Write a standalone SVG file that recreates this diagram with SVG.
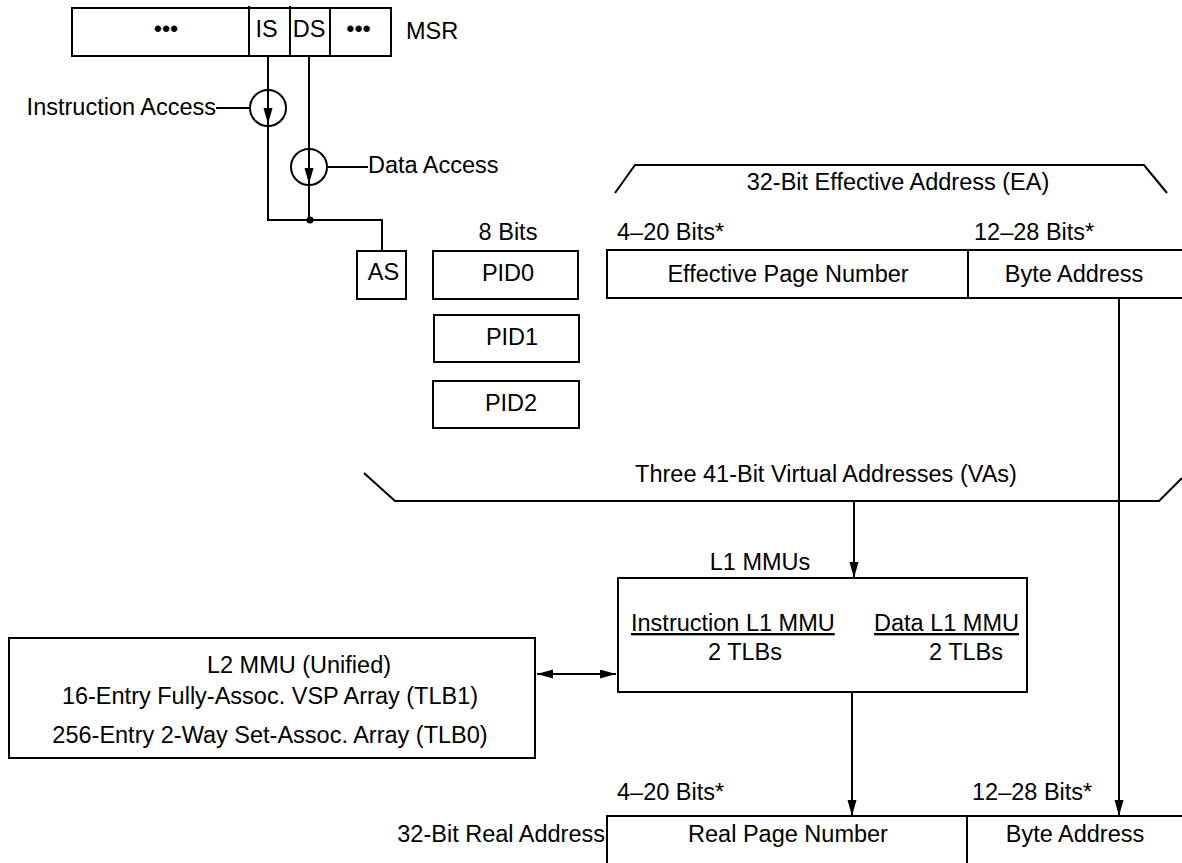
<svg xmlns="http://www.w3.org/2000/svg" width="1182" height="863" viewBox="0 0 1182 863">
<style>
  text { font-family: "Liberation Sans", Arial, sans-serif; font-size: 23.5px; fill: #000; }
  .m { text-anchor: middle; }
  .e { text-anchor: end; }
  .box { fill: #fff; stroke: #000; stroke-width: 2; }
  .ln { fill: none; stroke: #000; stroke-width: 2; }
  .u { text-decoration: underline; }
</style>
<defs>
  <marker id="ah" markerUnits="userSpaceOnUse" markerWidth="17" markerHeight="10" refX="16" refY="4.5" orient="auto-start-reverse">
    <path d="M0,0 L16,4.5 L0,9 Z" fill="#000"/>
  </marker>
</defs>
<rect width="1182" height="863" fill="#fff"/>

<g id="msr">
  <rect class="box" x="72" y="8" width="319" height="48"/>
  <line class="ln" x1="249" y1="6" x2="249" y2="56"/>
  <line class="ln" x1="290" y1="6" x2="290" y2="56"/>
  <line class="ln" x1="330" y1="8" x2="330" y2="57"/>
  <text class="m" x="166" y="37">•••</text>
  <text class="m" x="266.5" y="37">IS</text>
  <text class="m" x="309" y="37">DS</text>
  <text class="m" x="358.5" y="37">•••</text>
  <text x="406" y="39">MSR</text>
</g>

<g id="instruction-access">
  <circle class="ln" cx="268" cy="108" r="18"/>
  <line class="ln" x1="216" y1="108" x2="250" y2="108"/>
  <text class="e" x="216" y="115">Instruction Access</text>
</g>

<g id="data-access">
  <circle class="ln" cx="309" cy="167" r="18"/>
  <line class="ln" x1="327" y1="167" x2="368" y2="167"/>
  <text x="368" y="173">Data Access</text>
</g>

<g id="as">
  <rect class="box" x="357" y="251" width="49" height="48"/>
  <text class="m" x="383.5" y="280">AS</text>
</g>

<g id="pid0">
  <text class="m" x="508" y="240">8 Bits</text>
  <rect class="box" x="433" y="251" width="145" height="48"/>
  <text class="m" x="508" y="281">PID0</text>
</g>
<g id="pid1">
  <rect class="box" x="434" y="315" width="145" height="47"/>
  <text class="m" x="512" y="345">PID1</text>
</g>
<g id="pid2">
  <rect class="box" x="433" y="381" width="146" height="47"/>
  <text class="m" x="511" y="411">PID2</text>
</g>

<g id="effective-address">
  <path class="ln" d="M615,193 L635,165 L1144,165 L1167,193" stroke-width="1.5"/>
  <text class="m" x="898" y="190">32-Bit Effective Address (EA)</text>
  <text x="617" y="240">4–20 Bits*</text>
  <text x="974" y="240">12–28 Bits*</text>
  <rect class="box" x="607" y="250" width="590" height="48"/>
  <line class="ln" x1="968" y1="250" x2="968" y2="298"/>
  <text class="m" x="788" y="282">Effective Page Number</text>
  <text class="m" x="1074" y="282">Byte Address</text>
</g>

<g id="virtual-addresses">
  <path class="ln" d="M364,473 L395,501 L1159,501 L1182,478" stroke-width="1.8"/>
  <text class="m" x="826" y="482">Three 41-Bit Virtual Addresses (VAs)</text>
</g>

<g id="l1-mmus">
  <text class="m" x="760" y="570">L1 MMUs</text>
  <rect class="box" x="618" y="578" width="409" height="114"/>
  <text class="u" x="631" y="631">Instruction L1 MMU</text>
  <text class="u" x="874" y="631">Data L1 MMU</text>
  <text class="m" x="745" y="660">2 TLBs</text>
  <text class="m" x="966" y="660">2 TLBs</text>
</g>

<g id="l2-mmu">
  <rect class="box" x="9" y="638" width="526" height="120"/>
  <text class="m" x="299" y="673">L2 MMU (Unified)</text>
  <text class="m" x="270" y="704">16-Entry Fully-Assoc. VSP Array (TLB1)</text>
  <text class="m" x="270" y="743">256-Entry 2-Way Set-Assoc. Array (TLB0)</text>
</g>

<g id="real-address">
  <text x="617" y="800">4–20 Bits*</text>
  <text x="972" y="800">12–28 Bits*</text>
  <text class="e" x="605" y="842">32-Bit Real Address</text>
  <rect class="box" x="607" y="816" width="590" height="60"/>
  <line class="ln" x1="967" y1="816" x2="967" y2="863"/>
  <text class="m" x="788" y="842">Real Page Number</text>
  <text class="m" x="1075" y="842">Byte Address</text>
</g>

<g id="connectors">
  <line class="ln" x1="268" y1="56" x2="268" y2="124" marker-end="url(#ah)"/>
  <path class="ln" d="M268,122 L268,220 L382,220 L382,251"/>
  <line class="ln" x1="309" y1="56" x2="309" y2="184" marker-end="url(#ah)"/>
  <line class="ln" x1="309" y1="182" x2="309" y2="220"/>
  <circle cx="310" cy="220" r="3.5" fill="#000"/>
  <line class="ln" x1="854" y1="501" x2="854" y2="578" marker-end="url(#ah)"/>
  <line class="ln" x1="1119" y1="298" x2="1119" y2="816" marker-end="url(#ah)"/>
  <line class="ln" x1="852" y1="692" x2="852" y2="816" stroke-width="1.6" marker-end="url(#ah)"/>
  <line class="ln" x1="537" y1="674" x2="616" y2="674" marker-start="url(#ah)" marker-end="url(#ah)"/>
</g>
</svg>
